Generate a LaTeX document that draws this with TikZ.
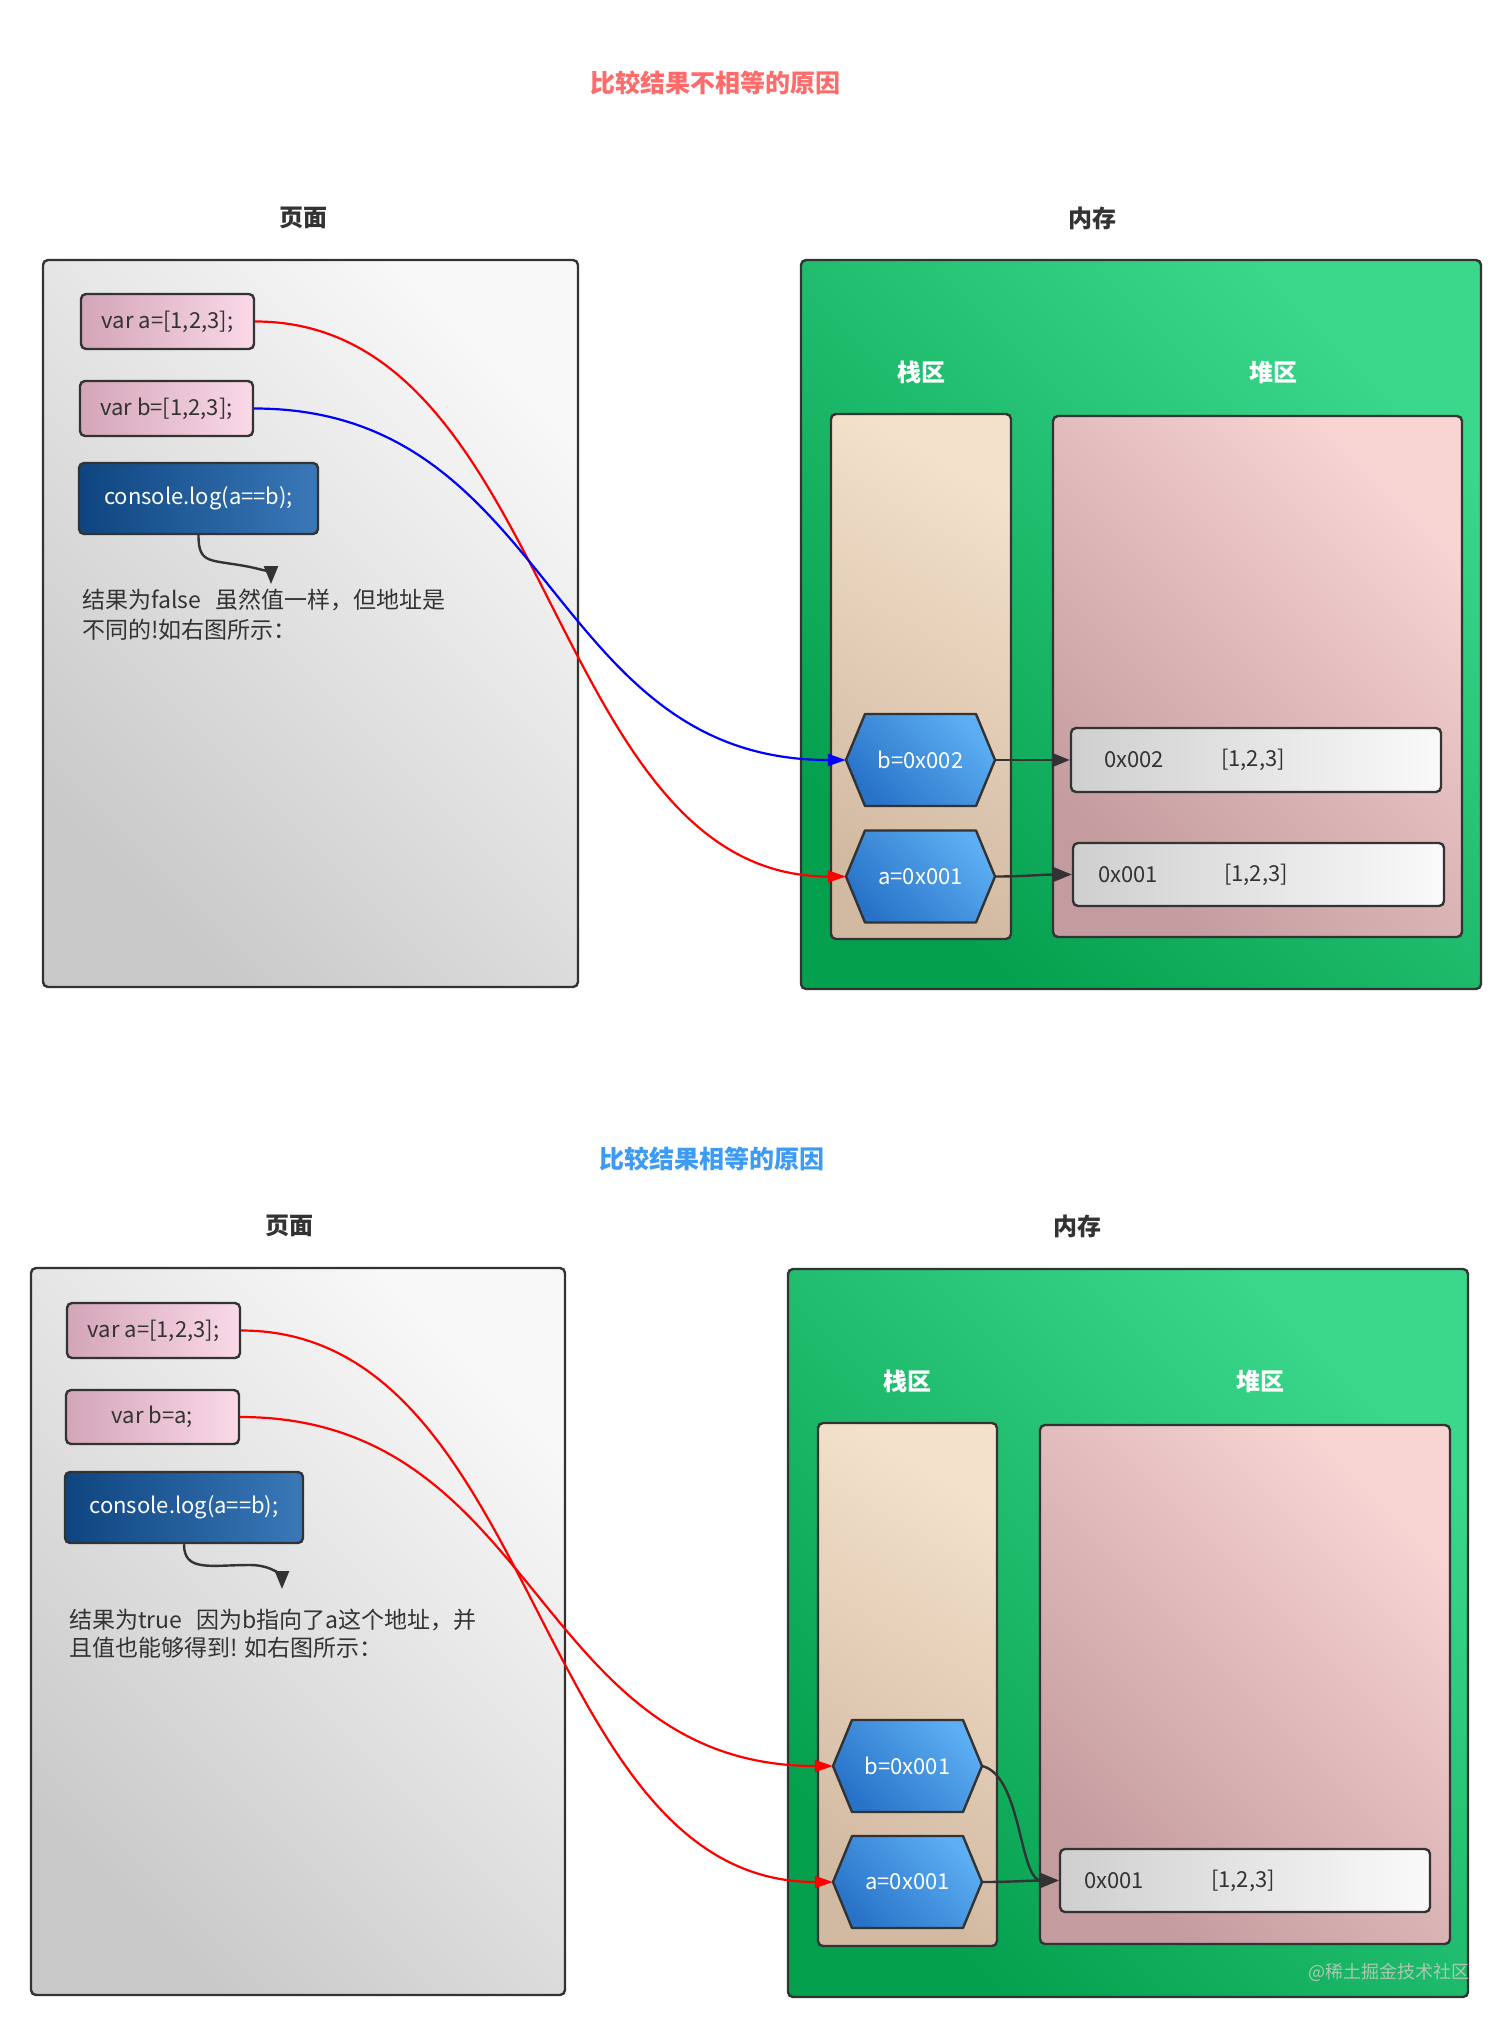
\documentclass[tikz,border=0pt]{standalone}
\usepackage{fontspec}
\setmainfont{Noto Sans CJK SC}
\usetikzlibrary{arrows.meta}
\definecolor{bdr}{HTML}{333333}
\definecolor{lblc}{HTML}{333333}
\definecolor{titleR}{HTML}{FF6B6B}
\definecolor{titleB}{HTML}{3D9BF5}
\definecolor{pageT}{HTML}{F8F8F8}
\definecolor{pageB}{HTML}{C9C9C9}
\definecolor{pinkL}{HTML}{D3A5B8}
\definecolor{pinkR}{HTML}{FAD9E8}
\definecolor{consL}{HTML}{0E4580}
\definecolor{consR}{HTML}{3A78B8}
\definecolor{greenT}{HTML}{3BD88C}
\definecolor{greenB}{HTML}{04A04E}
\definecolor{stackT}{HTML}{F3E1CB}
\definecolor{stackB}{HTML}{D2B9A2}
\definecolor{heapT}{HTML}{F8D4D3}
\definecolor{heapB}{HTML}{C49C9F}
\definecolor{hexT}{HTML}{5DAEF3}
\definecolor{hexB}{HTML}{2873C8}
\definecolor{itemL}{HTML}{CFCFCF}
\definecolor{itemR}{HTML}{FAFAFA}
\definecolor{txt}{HTML}{333333}
\definecolor{wmk}{HTML}{A9C9B2}
\newcommand\myhex[4]{%
  \path[hexsh] ({#1-74.5},#2) -- ({#1-55.5},{#2-46}) -- ({#1+55.5},{#2-46}) -- ({#1+74.5},#2) -- ({#1+55.5},{#2+46}) -- ({#1-55.5},{#2+46}) -- cycle;
  \node[hextx] (#3) at (#1,#2) {#4};}
\newcommand\mybox[7]{%
  \node[#1, minimum width={(#5-#3)*1pt}, minimum height={(#6-#4)*1pt}] (#2) at ({(#3+#5)/2},{(#4+#6)/2}) {#7};}
\begin{document}
\begin{tikzpicture}[x=1pt,y=-1pt,
  box/.style={draw=bdr, line width=2.4pt, rounded corners=5pt, inner sep=0pt},
  pagebox/.style={box, top color=pageT, bottom color=pageB, shading angle=-45},
  membox/.style={box, top color=greenT, bottom color=greenB, shading angle=-45},
  stackbox/.style={box, top color=stackT, bottom color=stackB, shading angle=-30},
  heapbox/.style={box, top color=heapT, bottom color=heapB, shading angle=-45},
  varbox/.style={box, left color=pinkL, right color=pinkR, text=txt, font=\fontsize{22}{26}\selectfont},
  consbox/.style={box, left color=consL, right color=consR, text=white, font=\fontsize{22}{26}\selectfont},
  itembox/.style={box, left color=itemL, right color=itemR},
  hexsh/.style={draw=bdr, line width=2.4pt, line join=round, top color=hexT, bottom color=hexB, shading angle=-45},
  hextx/.style={minimum width=149pt, minimum height=92pt, inner sep=0pt, text=white, font=\fontsize{22}{26}\selectfont},
  lbl/.style={font=\fontsize{24}{28}\selectfont\bfseries, text=lblc, inner sep=0pt},
  wlbl/.style={font=\fontsize{24}{28}\selectfont\bfseries, text=white, inner sep=0pt},
  ttl/.style={font=\fontsize{25}{30}\selectfont\bfseries, inner sep=0pt},
  body/.style={font=\fontsize{23}{27}\selectfont, text=txt, anchor=west, inner sep=0pt},
  itx/.style={font=\fontsize{22}{26}\selectfont, text=txt, anchor=west, inner sep=0pt},
  dk/.style={draw=bdr, line width=2.4pt, -{Triangle[length=18pt,width=14pt]}},
  rl/.style={draw=red, line width=2.2pt, -{Triangle[length=18pt,width=12pt]}},
  bl/.style={draw=blue, line width=2.2pt, -{Triangle[length=18pt,width=12pt]}}
]
\fill[white] (0,0) rectangle (1512,2026);
\useasboundingbox (0,0) rectangle (1512,2026);

% ================= TOP =================
\node[ttl, text=titleR] (t1) at (715,83) {比较结果不相等的原因};
\node[lbl] (pg1) at (303,218) {页面};
\node[lbl] (mm1) at (1092,218) {内存};

\mybox{pagebox}{pageA}{43}{260}{578}{987}{}
\mybox{membox}{memA}{801}{260}{1481}{989}{}
\mybox{stackbox}{stackA}{831}{414}{1011}{939}{}
\mybox{heapbox}{heapA}{1053}{416}{1462}{937}{}
\node[wlbl] (zA) at (921,372) {栈区};
\node[wlbl] (dA) at (1273,372) {堆区};

\mybox{varbox}{varA}{81}{294}{254}{349}{var a=[1,2,3];}
\mybox{varbox}{varB}{80}{381}{253}{436}{var b=[1,2,3];}
\mybox{consbox}{consA}{79}{463}{318}{534}{console.log(a==b);}
\coordinate (tipA) at (271,584);
\draw[dk] (consA.south) .. controls +(0,30) and +(-40,-8) .. (250,567) .. controls +(15,3) and +(0,-10) .. (tipA);
\node[body] (txA1) at (82,600) {结果为false\hspace{14pt}虽然值一样，但地址是};
\node[body] (txA2) at (82,630) {不同的!如右图所示：};

\myhex{920.5}{760}{hbA}{b=0x002}
\myhex{920.5}{876.5}{haA}{a=0x001}

\mybox{itembox}{itA2}{1071}{728}{1441}{792}{}
\node[itx] at (1104,760) {0x002};
\node[itx] at (1221,760) {[1,2,3]};
\mybox{itembox}{itA1}{1073}{843}{1444}{906}{}
\node[itx] at (1098,875) {0x001};
\node[itx] at (1224,875) {[1,2,3]};

\draw[dk] (hbA.east) to[out=0,in=180] (itA2.west);
\draw[dk] (haA.east) to[out=0,in=180] (itA1.west);
\draw[rl] (varA.east) .. controls +(300,0) and +(-300,0) .. (haA.west);
\draw[bl] (varB.east) .. controls +(300,0) and +(-300,0) .. (hbA.west);

% ================= BOTTOM =================
\node[ttl, text=titleB] (t2) at (712,1159) {比较结果相等的原因};
\node[lbl] (pg2) at (289,1226) {页面};
\node[lbl] (mm2) at (1077,1226) {内存};

\mybox{pagebox}{pageB}{31}{1268}{565}{1995}{}
\mybox{membox}{memB}{788}{1269}{1468}{1997}{}
\mybox{stackbox}{stackB}{818}{1423}{997}{1946}{}
\mybox{heapbox}{heapB}{1040}{1425}{1450}{1944}{}
\node[wlbl] (zB) at (907,1381) {栈区};
\node[wlbl] (dB) at (1260,1381) {堆区};

\mybox{varbox}{varA2}{67}{1303}{240}{1358}{var a=[1,2,3];}
\mybox{varbox}{varB2}{66}{1390}{239}{1444}{var b=a;}
\mybox{consbox}{consB}{65}{1472}{303}{1543}{console.log(a==b);}
\coordinate (tipB) at (282,1589);
\draw[dk] (consB.south) .. controls +(0,28) and +(-40,0) .. (250,1565) .. controls +(25,0) and +(0,-10) .. (tipB);
\node[body] (txB1) at (69,1620) {结果为true\hspace{14pt}因为b指向了a这个地址，并};
\node[body] (txB2) at (69,1648) {且值也能够得到! 如右图所示：};

\myhex{907.5}{1766}{hbB}{b=0x001}
\myhex{907.5}{1882}{haB}{a=0x001}

\mybox{itembox}{itB1}{1060}{1849}{1430}{1912}{}
\node[itx] at (1084,1881) {0x001};
\node[itx] at (1211,1881) {[1,2,3]};

\draw[dk] (hbB.east) .. controls +(40,10) and +(-40,0) .. (itB1.west);
\draw[dk] (haB.east) to[out=0,in=180] (itB1.west);
\draw[rl] (varA2.east) .. controls +(300,0) and +(-300,0) .. (haB.west);
\draw[rl] (varB2.east) .. controls +(300,0) and +(-300,0) .. (hbB.west);

\node[font=\fontsize{18}{20}\selectfont, text=wmk, anchor=east, inner sep=0pt] (wm) at (1470,1972) {@稀土掘金技术社区};
\end{tikzpicture}
\end{document}
